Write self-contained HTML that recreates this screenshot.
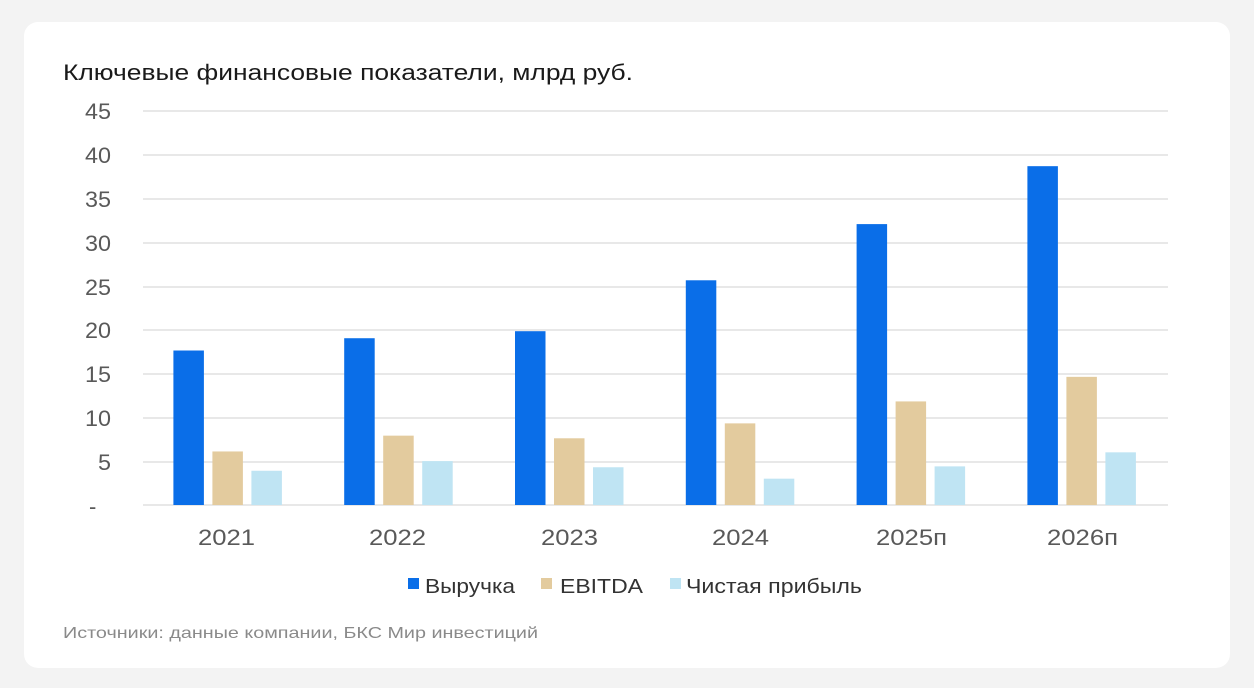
<!DOCTYPE html>
<html><head><meta charset="utf-8"><style>
body{margin:0;width:1254px;height:688px;background:#f3f3f3;overflow:hidden;font-family:"Liberation Sans",sans-serif}
.card{position:absolute;left:24px;top:22px;width:1206px;height:646px;background:#fff;border-radius:14px}
</style></head><body>
<div class="card"></div>
<svg width="1254" height="688" style="position:absolute;left:0;top:0" font-family="Liberation Sans, sans-serif">
<text x="63" y="80" font-size="22" fill="#1a1a1a" textLength="570" lengthAdjust="spacingAndGlyphs">Ключевые финансовые показатели, млрд руб.</text>
<g stroke="#d9d9d9" stroke-width="1.2">
<line x1="143" x2="1168" y1="111" y2="111"/><line x1="143" x2="1168" y1="155" y2="155"/>
<line x1="143" x2="1168" y1="199" y2="199"/><line x1="143" x2="1168" y1="243" y2="243"/>
<line x1="143" x2="1168" y1="287" y2="287"/><line x1="143" x2="1168" y1="330" y2="330"/>
<line x1="143" x2="1168" y1="374" y2="374"/><line x1="143" x2="1168" y1="418" y2="418"/>
<line x1="143" x2="1168" y1="462" y2="462"/><line x1="143" x2="1168" y1="505" y2="505"/>
</g>
<g font-size="22" fill="#595959">
<text x="85" y="119" textLength="26" lengthAdjust="spacingAndGlyphs">45</text>
<text x="85" y="163" textLength="26" lengthAdjust="spacingAndGlyphs">40</text>
<text x="85" y="207" textLength="26" lengthAdjust="spacingAndGlyphs">35</text>
<text x="85" y="251" textLength="26" lengthAdjust="spacingAndGlyphs">30</text>
<text x="85" y="295" textLength="26" lengthAdjust="spacingAndGlyphs">25</text>
<text x="85" y="338" textLength="26" lengthAdjust="spacingAndGlyphs">20</text>
<text x="85" y="382" textLength="26" lengthAdjust="spacingAndGlyphs">15</text>
<text x="85" y="426" textLength="26" lengthAdjust="spacingAndGlyphs">10</text>
<text x="98" y="470" textLength="13" lengthAdjust="spacingAndGlyphs">5</text>
<text x="89" y="514">-</text>
</g>
<g id="bars"></g>
<g font-size="22" fill="#595959">
<text x="198" y="545" textLength="57" lengthAdjust="spacingAndGlyphs">2021</text>
<text x="369" y="545" textLength="57" lengthAdjust="spacingAndGlyphs">2022</text>
<text x="541" y="545" textLength="57" lengthAdjust="spacingAndGlyphs">2023</text>
<text x="712" y="545" textLength="57" lengthAdjust="spacingAndGlyphs">2024</text>
<text x="876" y="545" textLength="71" lengthAdjust="spacingAndGlyphs">2025п</text>
<text x="1047" y="545" textLength="71" lengthAdjust="spacingAndGlyphs">2026п</text>
</g>
<rect x="408" y="578" width="11" height="11" fill="#0a6ee8"/>
<text x="425" y="593" font-size="20" fill="#333" textLength="90" lengthAdjust="spacingAndGlyphs">Выручка</text>
<rect x="541" y="578" width="11" height="11" fill="#e3cb9e"/>
<text x="560" y="593" font-size="20" fill="#333" textLength="83" lengthAdjust="spacingAndGlyphs">EBITDA</text>
<rect x="670" y="578" width="11" height="11" fill="#bfe4f3"/>
<text x="686" y="593" font-size="20" fill="#333" textLength="176" lengthAdjust="spacingAndGlyphs">Чистая прибыль</text>
<text x="63" y="638" font-size="16" fill="#8a8a8a" textLength="475" lengthAdjust="spacingAndGlyphs">Источники: данные компании, БКС Мир инвестиций</text>
</svg>
<script>
var d=[[17.6,6.1,3.9],[19,7.9,5],[19.8,7.6,4.3],[25.6,9.3,3.0],[32,11.8,4.4],[38.6,14.6,6.0]];
var c=["#0a6ee8","#e3cb9e","#bfe4f3"],off=[-55,-16,23],s="";
for(var i=0;i<6;i++){var cx=228.4+170.8*i;for(var j=0;j<3;j++){var h=d[i][j]*8.778;
s+='<rect x="'+(cx+off[j])+'" y="'+(505-h)+'" width="30.5" height="'+h+'" fill="'+c[j]+'"/>';}}
document.getElementById("bars").innerHTML=s;
</script>
</body></html>
